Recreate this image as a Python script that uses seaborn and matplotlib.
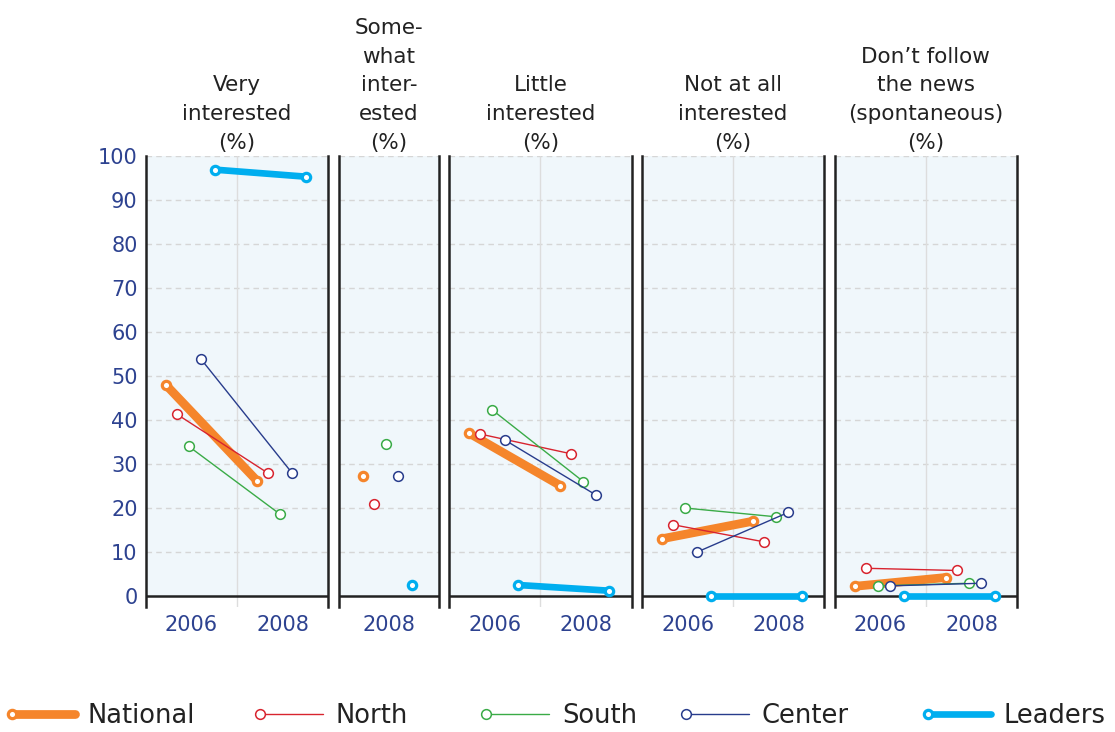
import numpy as np
import pandas as pd
import matplotlib
matplotlib.use("Agg")
import matplotlib.pyplot as plt
import seaborn as sns
from matplotlib.lines import Line2D
from matplotlib.legend_handler import HandlerLine2DCompound

# ---- data -------------------------------------------------------------
panel_titles = [
    "Very\ninterested\n(%)",
    "Some-\nwhat\ninter-\nested\n(%)",
    "Little\ninterested\n(%)",
    "Not at all\ninterested\n(%)",
    "Don\u2019t follow\nthe news\n(spontaneous)\n(%)",
]
tick_years = [2006, 2008]
series_names = ["National", "North", "South", "Center", "Leaders"]

# one value per panel (None = not surveyed that year)
national_2006 = [48, None, 37, 13, 2.2]
national_2008 = [26.2, 27.2, 25.1, 17.0, 4.2]
north_2006 = [41.3, None, 36.8, 16.2, 6.3]
north_2008 = [27.9, 21.0, 32.3, 12.3, 5.8]
south_2006 = [34.0, None, 42.3, 20.0, 2.3]
south_2008 = [18.6, 34.6, 26.0, 18.0, 2.9]
center_2006 = [53.8, None, 35.5, 10.0, 2.3]
center_2008 = [27.9, 27.3, 23.0, 19.0, 2.9]
leaders_2006 = [96.9, None, 2.5, 0.0, 0.0]
leaders_2008 = [95.3, 2.5, 1.2, 0.0, 0.0]

values = {
    "National": (national_2006, national_2008),
    "North": (north_2006, north_2008),
    "South": (south_2006, south_2008),
    "Center": (center_2006, center_2008),
    "Leaders": (leaders_2006, leaders_2008),
}

rows = []
for s in series_names:
    v06, v08 = values[s]
    for p in range(len(panel_titles)):
        for yr, v in ((2006, v06[p]), (2008, v08[p])):
            if v is not None:
                rows.append({"panel": p, "series": s, "year": yr, "value": v})
df = pd.DataFrame(rows)

# ---- styling ------------------------------------------------------------
colors = {
    "National": "#F5852B",
    "North": "#D8242F",
    "South": "#3AAB47",
    "Center": "#283C8C",
    "Leaders": "#00AEEF",
}
line_w = {"National": 6.3, "North": 1.0, "South": 1.0, "Center": 1.0, "Leaders": 4.8}
mark_s = {"National": 6.0, "North": 7.0, "South": 7.0, "Center": 7.0, "Leaders": 6.0}
mark_ew = {"National": 2.3, "North": 1.1, "South": 1.1, "Center": 1.1, "Leaders": 2.3}
dodge = {"National": -0.565, "North": -0.32, "South": -0.06, "Center": 0.21, "Leaders": 0.51}
df["xpos"] = df["year"] + df["series"].map(dodge)

sns.set_style("white")
plt.rcParams["font.family"] = ["DejaVu Sans"]

fig = plt.figure(figsize=(11.15, 7.32), dpi=100)
gs = fig.add_gridspec(
    1, 5, width_ratios=[4, 2.2, 4, 4, 4],
    left=146 / 1115, right=1017 / 1115,
    bottom=1 - 607 / 732, top=1 - 156 / 732, wspace=0.063,
)

tick_color = "#2D4290"
dark = "#222222"
bg = "#F0F7FB"

for p in range(5):
    ax = fig.add_subplot(gs[0, p])
    ax.set_facecolor("white")
    ax.axhspan(0, 100, color=bg, zorder=0, lw=0)
    for gy in range(10, 101, 10):
        ax.axhline(gy, color="#D6D6D6", lw=1.0, ls=(0, (4, 3)), zorder=1)
    if p == 1:
        ax.set_xlim(2008 - 1.1, 2008 + 1.1)
        ax.set_xticks([2008])
    else:
        ax.set_xlim(2005, 2009)
        ax.set_xticks(tick_years)
        ax.axvline(2007, color="#DDDDDD", lw=1.0, zorder=1)
    ax.set_ylim(-2.5, 100)
    ax.axhline(0, color=dark, lw=1.8, zorder=2)

    sub = df[df["panel"] == p]
    for s in series_names:
        d = sub[sub["series"] == s]
        if d.empty:
            continue
        sns.lineplot(
            data=d, x="xpos", y="value", ax=ax, color=colors[s],
            lw=line_w[s], marker="o", ms=mark_s[s], mfc="white",
            mec=colors[s], mew=mark_ew[s], estimator=None,
            legend=False, zorder=3, solid_capstyle="round",
        )

    ax.set_xlabel("")
    ax.set_ylabel("")
    ax.set_title(panel_titles[p], fontsize=15.5, color=dark, pad=5, linespacing=1.55)
    ax.set_yticks(range(0, 101, 10))
    ax.tick_params(axis="both", length=0, labelsize=15, labelcolor=tick_color)
    ax.tick_params(axis="x", pad=6)
    ax.tick_params(axis="y", pad=6)
    if p > 0:
        ax.tick_params(axis="y", labelleft=False)
    for side in ("top", "bottom"):
        ax.spines[side].set_visible(False)
    for side in ("left", "right"):
        ax.spines[side].set_visible(True)
        ax.spines[side].set_color(dark)
        ax.spines[side].set_linewidth(1.8)


class LeftMarkerHandler(HandlerLine2DCompound):
    """Legend handle with its marker sitting at the left end of the line."""

    def get_xdata(self, legend, xdescent, ydescent, width, height, fontsize):
        return [-xdescent, -xdescent + width], [-xdescent]


legend_x = {"National": 12, "North": 260, "South": 486, "Center": 686, "Leaders": 928}
for s in series_names:
    h = Line2D([], [], color=colors[s], lw=line_w[s], marker="o", ms=mark_s[s],
               mfc="white", mec=colors[s], mew=mark_ew[s])
    fig.legend(
        [h], [s], loc="center left",
        bbox_to_anchor=(legend_x[s] / 1115, 1 - 716 / 732),
        frameon=False, fontsize=18.5, handlelength=2.45, handletextpad=0.5,
        borderpad=0, borderaxespad=0,
        handler_map={Line2D: LeftMarkerHandler()},
        labelcolor=dark,
    )

fig.savefig("out.png", dpi=100, facecolor="white")
